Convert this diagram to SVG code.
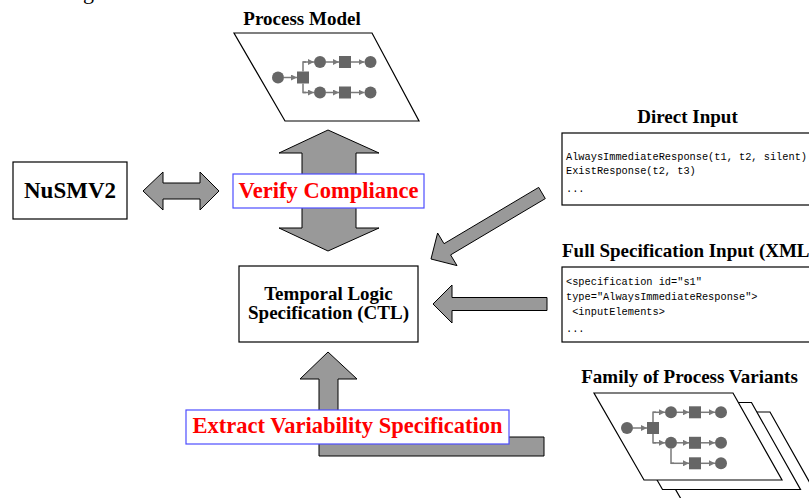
<svg xmlns="http://www.w3.org/2000/svg" width="809" height="498" viewBox="0 0 809 498">
<style>
.title{font-family:"Liberation Serif","Times New Roman",serif;font-weight:bold;font-size:19px;fill:#000}
.mono{font-family:"Liberation Mono","Courier New",monospace;font-size:10.3px;fill:#000}
.big{fill:#999;stroke:#000;stroke-width:1;stroke-linejoin:miter}
.box{fill:#fff;stroke:#000;stroke-width:1.2}
.lbl{fill:#fff;stroke:#4d4dff;stroke-width:1.2}
.red{font-family:"Liberation Serif","Times New Roman",serif;font-weight:bold;font-size:22.5px;fill:#f00}
.sheet{fill:#fff;stroke:#000;stroke-width:1.2}
.pn{fill:#666}
.pl{stroke:#7a7a7a;stroke-width:1.5;fill:none}
.pa{stroke:#7a7a7a;stroke-width:1.5;fill:none;marker-end:url(#ah)}
</style>
<defs>
<marker id="ah" markerUnits="userSpaceOnUse" markerWidth="6" markerHeight="6" refX="6" refY="3" orient="auto">
<path d="M0,0 L6,3 L0,6 z" fill="#7a7a7a"/>
</marker>
</defs>
<rect width="809" height="498" fill="#fff"/>
<text x="83" y="-1" style="font-family:'Liberation Serif',serif;font-size:22px">g</text>

<g id="connectors">
<polygon class="big" points="143,191 163,172 163,183 200,183 200,172 219,191 200,210 200,199 163,199 163,210"/>
<polygon class="big" points="328,130 379,153 356,153 356,228 379,228 328,251 279,228 302,228 302,153 279,153"/>
<polygon class="big" points="431,259 437.6,233 444,243.7 538.7,187.4 545.3,198.6 450.6,254.9 457,265.6"/>
<polygon class="big" points="433,304 452,285 452,297.5 547,297.5 547,310.5 452,310.5 452,323"/>
<polygon class="big" points="328,352 357,379 338,379 338,437 544,437 544,456 319,456 319,379 300,379"/>
</g>

<g id="process-model">
<text class="title" x="302" y="25" text-anchor="middle">Process Model</text>
<polygon class="sheet" points="234,33 372,33 419,121 285,121"/>
<circle class="pn" cx="278" cy="77.5" r="6"/>
<line class="pa" x1="284" y1="77.5" x2="297" y2="77.5"/>
<rect class="pn" x="297" y="71.5" width="12" height="12"/>
<polyline class="pl" points="303,71.5 303,62 306,62"/>
<polyline class="pl" points="303,83.5 303,92.5 306,92.5"/>
<line class="pa" x1="303" y1="62" x2="314" y2="62"/>
<line class="pa" x1="303" y1="92.5" x2="314" y2="92.5"/>
<circle class="pn" cx="320" cy="62" r="6"/>
<circle class="pn" cx="320" cy="92.5" r="6"/>
<line class="pa" x1="326" y1="62" x2="339" y2="62"/>
<line class="pa" x1="326" y1="92.5" x2="339" y2="92.5"/>
<rect class="pn" x="339" y="56" width="12" height="12"/>
<rect class="pn" x="339" y="86.5" width="12" height="12"/>
<line class="pa" x1="351" y1="62" x2="364.5" y2="62"/>
<line class="pa" x1="351" y1="92.5" x2="364.5" y2="92.5"/>
<circle class="pn" cx="370.5" cy="62" r="6"/>
<circle class="pn" cx="370.5" cy="92.5" r="6"/>
</g>

<g id="nusmv">
<rect class="box" x="13" y="162" width="114" height="57"/>
<text x="70" y="198" text-anchor="middle" style="font-family:'Liberation Serif',serif;font-weight:bold;font-size:23px">NuSMV2</text>
</g>

<g id="verify">
<rect class="lbl" x="233" y="174" width="191" height="34"/>
<text class="red" x="328.5" y="197.5" text-anchor="middle">Verify Compliance</text>
</g>

<g id="ctl">
<rect class="box" x="239" y="266" width="179" height="76"/>
<text class="title" x="328.5" y="299.5" text-anchor="middle">Temporal Logic</text>
<text class="title" x="328.5" y="318.5" text-anchor="middle">Specification (CTL)</text>
</g>

<g id="direct-input">
<text class="title" x="687.5" y="123" text-anchor="middle">Direct Input</text>
<rect class="box" x="562" y="133" width="260" height="72"/>
<text class="mono" x="566" y="160">AlwaysImmediateResponse(t1, t2, silent)</text>
<text class="mono" x="566" y="174">ExistResponse(t2, t3)</text>
<text class="mono" x="566" y="192">...</text>
</g>

<g id="full-spec">
<text class="title" x="562" y="256.5">Full Specification Input (XML)</text>
<rect class="box" x="562" y="267" width="260" height="75"/>
<text class="mono" x="566" y="285">&lt;specification id="s1"</text>
<text class="mono" x="566" y="300">type="AlwaysImmediateResponse"&gt;</text>
<text class="mono" x="572.2" y="315">&lt;inputElements&gt;</text>
<text class="mono" x="566" y="332">...</text>
</g>

<g id="extract">
<rect class="lbl" x="186" y="410" width="323" height="34"/>
<text class="red" x="347.5" y="433" text-anchor="middle">Extract Variability Specification</text>
</g>

<g id="family">
<text class="title" x="689.5" y="383" text-anchor="middle">Family of Process Variants</text>
<polygon class="sheet" points="631,412 770,412 819,499 681,499"/>
<polygon class="sheet" points="612.5,402.5 751.5,402.5 800.5,489.5 662.5,489.5"/>
<polygon class="sheet" points="594,393 733,393 782,480 644,480"/>
<circle class="pn" cx="627" cy="428" r="6"/>
<line class="pa" x1="633" y1="428" x2="647" y2="428"/>
<rect class="pn" x="647" y="422" width="12" height="12"/>
<polyline class="pl" points="653,422 653,412.3 656,412.3"/>
<polyline class="pl" points="653,434 653,442.8 656,442.8"/>
<line class="pa" x1="653" y1="412.3" x2="665" y2="412.3"/>
<line class="pa" x1="653" y1="442.8" x2="665" y2="442.8"/>
<circle class="pn" cx="671" cy="412.3" r="6"/>
<circle class="pn" cx="671" cy="442.8" r="6"/>
<line class="pa" x1="677" y1="412.3" x2="689" y2="412.3"/>
<line class="pa" x1="677" y1="442.8" x2="689" y2="442.8"/>
<rect class="pn" x="689" y="406.3" width="12" height="12"/>
<rect class="pn" x="689" y="436.8" width="12" height="12"/>
<line class="pa" x1="701" y1="412.3" x2="715" y2="412.3"/>
<line class="pa" x1="701" y1="442.8" x2="715" y2="442.8"/>
<circle class="pn" cx="721" cy="412.3" r="6"/>
<circle class="pn" cx="721" cy="442.8" r="6"/>
<polyline class="pl" points="671,448.8 671,463.3 674,463.3"/>
<line class="pa" x1="671" y1="463.3" x2="689" y2="463.3"/>
<rect class="pn" x="689" y="457.3" width="12" height="12"/>
<line class="pa" x1="701" y1="463.3" x2="715" y2="463.3"/>
<circle class="pn" cx="721" cy="463.3" r="6"/>
</g>
</svg>
